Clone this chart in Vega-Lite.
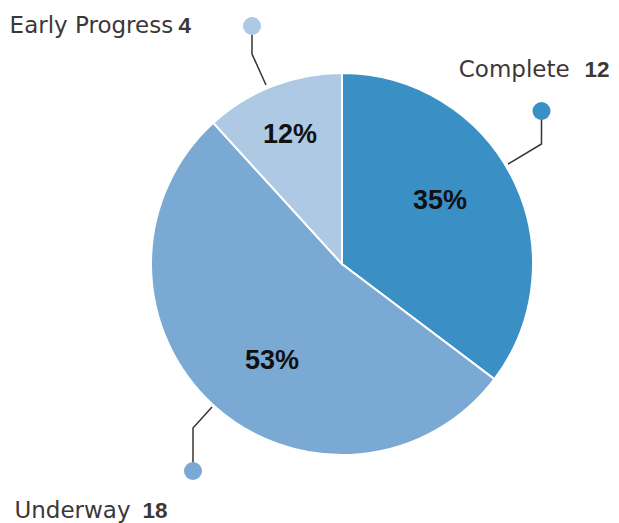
{
  "$schema": "https://vega.github.io/schema/vega-lite/v6.json",
  "width": 619,
  "height": 523,
  "autosize": {"type": "fit", "contains": "padding"},
  "padding": 0,
  "background": "white",
  "config": {"view": {"stroke": null}},
  "datasets": {
    "status": [
      {"status": "Complete", "count": 12, "order": 1},
      {"status": "Underway", "count": 18, "order": 2},
      {"status": "Early Progress", "count": 4, "order": 3}
    ],
    "labels": [
      {"status": "Complete", "nx": 172.2, "cx": 242.5, "ly": 187, "px": 98, "py": 63},
      {"status": "Underway", "nx": -269.5, "cx": -199.5, "ly": -254, "px": -70, "py": -97},
      {"status": "Early Progress", "nx": -250.6, "cx": -163.5, "ly": 231, "px": -52, "py": 129}
    ],
    "leaders": [
      {"status": "Complete", "seq": 1, "x": 166, "y": 100},
      {"status": "Complete", "seq": 2, "x": 199.5, "y": 120},
      {"status": "Complete", "seq": 3, "x": 199.5, "y": 153},
      {"status": "Underway", "seq": 1, "x": -130, "y": -143},
      {"status": "Underway", "seq": 2, "x": -149, "y": -164},
      {"status": "Underway", "seq": 3, "x": -149, "y": -207},
      {"status": "Early Progress", "seq": 1, "x": -76, "y": 179},
      {"status": "Early Progress", "seq": 2, "x": -90, "y": 210},
      {"status": "Early Progress", "seq": 3, "x": -90, "y": 238}
    ]
  },
  "resolve": {"scale": {"color": "shared", "x": "shared", "y": "shared"}},
  "layer": [
    {
      "data": {"name": "status"},
      "mark": {"type": "arc", "outerRadius": 191, "stroke": "white", "strokeWidth": 2},
      "encoding": {
        "theta": {"field": "count", "type": "quantitative", "stack": true},
        "order": {"field": "order", "type": "quantitative"},
        "color": {
          "field": "status", "type": "nominal",
          "scale": {"domain": ["Complete", "Underway", "Early Progress"], "range": ["#3a8fc5", "#7aaad3", "#adc9e4"]},
          "legend": null
        },
        "x": {"datum": 0, "type": "quantitative", "scale": {"domain": [-342, 277], "nice": false, "zero": false}, "axis": null},
        "y": {"datum": 0, "type": "quantitative", "scale": {"domain": [-259, 264], "nice": false, "zero": false}, "axis": null}
      }
    },
    {
      "data": {"name": "labels"},
      "transform": [
        {"lookup": "status", "from": {"data": {"name": "status"}, "key": "status", "fields": ["count"]}},
        {"joinaggregate": [{"op": "sum", "field": "count", "as": "total"}]},
        {"calculate": "format(datum.count / datum.total, '.0%')", "as": "pct"}
      ],
      "mark": {"type": "text", "font": "Liberation Sans", "fontSize": 27, "fontWeight": "bold", "color": "#111111", "align": "center", "baseline": "middle"},
      "encoding": {
        "x": {"field": "px", "type": "quantitative"},
        "y": {"field": "py", "type": "quantitative"},
        "text": {"field": "pct"}
      }
    },
    {
      "data": {"name": "leaders"},
      "mark": {"type": "line", "color": "#3b3333", "strokeWidth": 1.5},
      "encoding": {
        "x": {"field": "x", "type": "quantitative"},
        "y": {"field": "y", "type": "quantitative"},
        "detail": {"field": "status"},
        "order": {"field": "seq", "type": "quantitative"}
      }
    },
    {
      "data": {"name": "leaders"},
      "transform": [{"filter": "datum.seq == 3"}],
      "mark": {"type": "point", "filled": true, "size": 324, "opacity": 1},
      "encoding": {
        "x": {"field": "x", "type": "quantitative"},
        "y": {"field": "y", "type": "quantitative"},
        "color": {"field": "status", "type": "nominal"}
      }
    },
    {
      "data": {"name": "labels"},
      "mark": {"type": "text", "font": "DejaVu Sans", "fontSize": 23, "color": "#3d3737", "align": "center", "baseline": "alphabetic"},
      "encoding": {
        "x": {"field": "nx", "type": "quantitative"},
        "y": {"field": "ly", "type": "quantitative"},
        "text": {"field": "status"}
      }
    },
    {
      "data": {"name": "labels"},
      "transform": [
        {"lookup": "status", "from": {"data": {"name": "status"}, "key": "status", "fields": ["count"]}}
      ],
      "mark": {"type": "text", "font": "Liberation Sans", "fontSize": 22.5, "fontWeight": "bold", "color": "#3d3737", "align": "left", "baseline": "alphabetic"},
      "encoding": {
        "x": {"field": "cx", "type": "quantitative"},
        "y": {"field": "ly", "type": "quantitative"},
        "text": {"field": "count", "type": "quantitative"}
      }
    }
  ]
}
